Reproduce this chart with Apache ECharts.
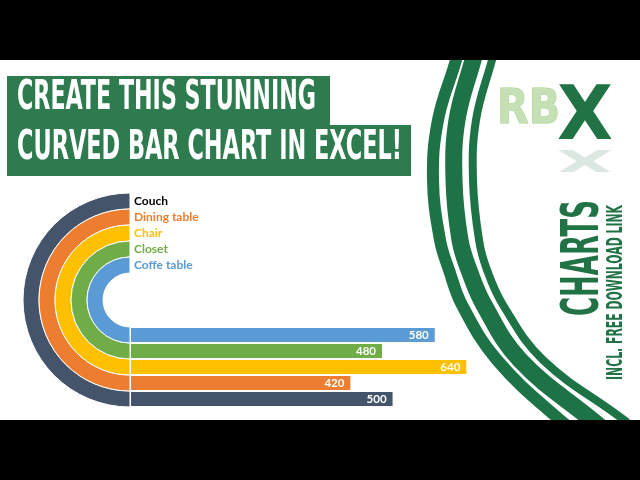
<!DOCTYPE html>
<html><head><meta charset="utf-8">
<script src="https://cdn.jsdelivr.net/npm/echarts@6/dist/echarts.min.js"></script>
<style>html,body{margin:0;padding:0;background:#fff}#c{width:640px;height:480px}</style>
</head><body><div id="c"></div>
<script>
// Categories: outermost ring / bottom bar first
const categories = ['Couch', 'Dining table', 'Chair', 'Closet', 'Coffe table'];
const values = [500, 420, 640, 480, 580];
const arcSpan = [180, 180, 180, 180, 180]; // each curved part is a half turn
const colors = ['#44546A', '#ED7D31', '#FFC000', '#70AD47', '#5B9BD5'];
const labelColors = ['#000000', '#ED7D31', '#FFC000', '#70AD47', '#5B9BD5'];
const titleLines = ['CREATE THIS STUNNING', 'CURVED BAR CHART IN EXCEL!'];
const sideTitle = 'CHARTS';
const sideSub = 'INCL. FREE DOWNLOAD LINK';

const mctx = document.createElement('canvas').getContext('2d');
function fit(text, weight, size, family, target) {
  mctx.font = weight + ' ' + size + 'px ' + family;
  return target / mctx.measureText(text).width;
}
const COND = '"DejaVu Sans Condensed", "DejaVu Sans"';
const WIDE = '"DejaVu Sans"';
const G = '#217346';

function txt(text, x, y, size, family, target, fill, extra) {
  const e = {
    type: 'text', x: x, y: y, scaleX: fit(text, 'bold', size, family, target),
    style: { text: text, fontSize: size, fontFamily: family, fontWeight: 'bold', fill: fill, align: 'left', verticalAlign: 'middle' },
    z: 20
  };
  return Object.assign(e, extra || {});
}

const rich = {};
labelColors.forEach((c, i) => { rich['c' + i] = { color: c, fontWeight: 'bold', fontSize: 12, fontFamily: 'Lato' }; });

const graphics = [
  { type: 'rect', shape: { x: 7, y: 76, width: 323, height: 50 }, style: { fill: '#2e7b4f' }, z: 10 },
  { type: 'rect', shape: { x: 7, y: 125, width: 404, height: 51 }, style: { fill: '#2e7b4f' }, z: 10 },
  txt(titleLines[0], 17, 99, 40, COND, 299, '#ffffff'),
  txt(titleLines[1], 17, 148.5, 40, COND, 385, '#ffffff'),
  // decorative swooshes
  { type: 'polyline', shape: { smooth: 0.4, points: [[466,20],[456,60],[438,120],[433,180],[440,240],[449,270],[462,305],[497,360],[560,420],[600,450]] }, style: { stroke: '#1e7346', lineWidth: 12, fill: null }, z: 5 },
  { type: 'polyline', shape: { smooth: 0.4, points: [[484,20],[473,60],[457,120],[454,180],[460,240],[469,270],[484,305],[520,360],[592,420],[630,450]] }, style: { stroke: '#1e7346', lineWidth: 17, fill: null }, z: 5 },
  { type: 'polyline', shape: { smooth: 0.4, points: [[503,20],[492,60],[476,120],[473,180],[479,240],[487,270],[503,305],[543,360],[624,420],[660,450]] }, style: { stroke: '#1e7346', lineWidth: 8, fill: null }, z: 5 },
  // logo
  txt('RB', 497, 111, 48, WIDE, 63, '#c5e0b4', { style: { text: 'RB', fontSize: 48, fontFamily: WIDE, fontWeight: 'bold', fill: '#c5e0b4', stroke: '#a9d18e', lineWidth: 1, align: 'left', verticalAlign: 'middle' } }),
  txt('X', 557, 120, 74, WIDE, 56, G),
  { type: 'text', x: 557, y: 158, scaleX: fit('X', 'bold', 74, WIDE, 56), scaleY: -0.4, style: { text: 'X', fontSize: 74, fontFamily: WIDE, fontWeight: 'bold', fill: 'rgba(33,115,70,0.16)', align: 'left', verticalAlign: 'middle' }, z: 20 },
  // side titles
  { type: 'text', x: 584.5, y: 258, rotation: Math.PI / 2, scaleX: fit(sideTitle, 'bold', 51, COND, 116), style: { text: sideTitle, fontSize: 51, fontFamily: COND, fontWeight: 'bold', fill: G, align: 'center', verticalAlign: 'middle' }, z: 20 },
  { type: 'text', x: 616.5, y: 292.5, rotation: Math.PI / 2, scaleX: fit(sideSub, 'bold', 21, COND, 175), style: { text: sideSub, fontSize: 21, fontFamily: COND, fontWeight: 'bold', fill: G, align: 'center', verticalAlign: 'middle' }, z: 20 },
  // letterbox
  { type: 'rect', shape: { x: 0, y: 0, width: 640, height: 60 }, style: { fill: '#000' }, z: 50 },
  { type: 'rect', shape: { x: 0, y: 420, width: 640, height: 60 }, style: { fill: '#000' }, z: 50 }
];

const chart = echarts.init(document.getElementById('c'), null, { renderer: 'canvas' });
chart.setOption({
  animation: false,
  backgroundColor: '#ffffff',
  polar: { center: [130, 300], radius: [27, 107] },
  angleAxis: { type: 'value', min: 0, max: 360, startAngle: 90, clockwise: false, show: false },
  radiusAxis: {
    type: 'category', data: categories, inverse: true, z: 30,
    axisLine: { show: false }, axisTick: { show: false }, splitLine: { show: false },
    axisLabel: { show: true, inside: true, align: 'left', margin: -4, interval: 0, formatter: (v, i) => '{c' + i + '|' + v + '}', rich: rich }
  },
  grid: { left: 130, top: 327, width: 369, height: 80 },
  xAxis: { type: 'value', min: 0, max: 700, show: false },
  yAxis: { type: 'category', data: categories, show: false },
  series: [
    {
      type: 'bar', coordinateSystem: 'polar', barCategoryGap: '0%', silent: true,
      data: arcSpan.map((v, i) => ({ value: v, itemStyle: { color: colors[i] } })),
      itemStyle: { borderColor: '#ffffff', borderWidth: 1 }
    },
    {
      type: 'bar', barCategoryGap: '0%', silent: true,
      data: values.map((v, i) => ({ value: v, itemStyle: { color: colors[i] } })),
      itemStyle: { borderColor: '#ffffff', borderWidth: 1 },
      label: { show: true, position: 'insideRight', distance: 7, color: '#ffffff', fontWeight: 'bold', fontSize: 11.5, fontFamily: 'Lato' }
    }
  ],
  graphic: graphics
});
</script></body></html>
